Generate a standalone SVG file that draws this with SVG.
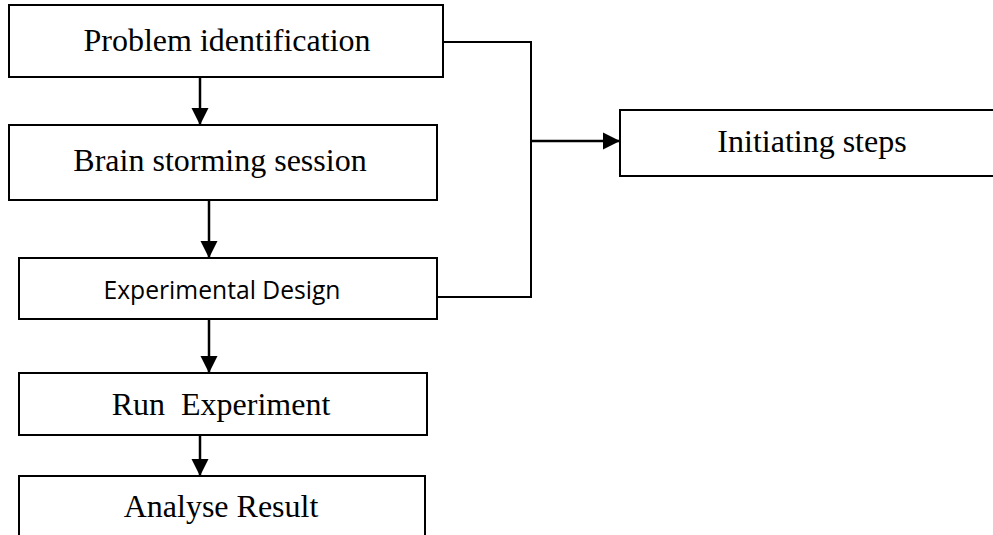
<svg xmlns="http://www.w3.org/2000/svg" width="993" height="535" viewBox="0 0 993 535">
<style>
.box{fill:#fff;stroke:#000;stroke-width:2}
.t{font-family:"Liberation Serif","Times New Roman",serif;font-size:32px;fill:#000;text-anchor:middle}
.s{font-family:"Open Sans","Liberation Sans",sans-serif;font-size:25px;fill:#000;text-anchor:middle}
.c{fill:none;stroke:#000;stroke-width:2}
.a{fill:none;stroke:#000;stroke-width:2.5;marker-end:url(#ah)}
</style>
<defs>
<marker id="ah" markerWidth="7" markerHeight="7" refX="7" refY="3.5" orient="auto" markerUnits="strokeWidth">
<path d="M0,0 L7,3.5 L0,7 Z" fill="#000"/>
</marker>
</defs>
<rect width="993" height="535" fill="#fff"/>
<g id="n1"><rect class="box" x="9" y="5" width="434" height="72"/><text class="t" x="227" y="51">Problem identification</text></g>
<g id="n2"><rect class="box" x="9" y="125" width="428" height="75"/><text class="t" x="220" y="171">Brain storming session</text></g>
<g id="n3"><rect class="box" x="19" y="258" width="418" height="61"/><text class="s" x="222" y="299" textLength="237" lengthAdjust="spacingAndGlyphs">Experimental Design</text></g>
<g id="n4"><rect class="box" x="19" y="373" width="408" height="62"/><text class="t" x="221" y="415" xml:space="preserve">Run  Experiment</text></g>
<g id="n5"><rect class="box" x="19" y="476" width="406" height="70"/><text class="t" x="221" y="517">Analyse Result</text></g>
<g id="n6"><rect class="box" x="620" y="110" width="390" height="66"/><text class="t" x="812" y="152">Initiating steps</text></g>
<g id="connectors">
<line class="a" x1="200" y1="77" x2="200" y2="125"/>
<line class="a" x1="209" y1="200" x2="209" y2="258"/>
<line class="a" x1="209" y1="319" x2="209" y2="373"/>
<line class="a" x1="200" y1="435" x2="200" y2="476"/>
<polyline class="c" points="443,42 531,42 531,297 437,297"/>
<line class="a" x1="531" y1="141" x2="620" y2="141"/>
</g>
</svg>
